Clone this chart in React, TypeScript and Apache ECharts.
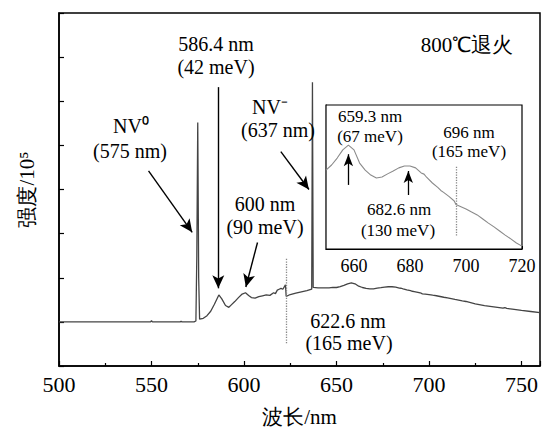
import React, { useEffect, useRef } from "react";
import * as echarts from "echarts";

// ---- data ----
const wavelengths = [
  500, 520, 540, 549.5, 550, 550.5, 560, 565.5, 566, 566.5, 573, 574, 574.5, 575, 575.5, 576,
  578, 580, 582, 584, 586.4, 588, 590, 591.8, 593, 595, 597, 599, 600.8, 602.5, 604, 606,
  608, 610, 612, 614, 616, 617, 618, 619, 620, 621, 622.4, 622.8, 625, 628, 631, 634,
  636.6, 637, 637.4, 640, 643, 646, 648, 650, 652, 654, 656, 658, 660, 662, 664, 666,
  668, 670, 672, 674, 676, 678, 680, 682, 684, 685, 686, 688, 690, 691, 692, 694,
  695.8, 696.4, 698, 700, 702, 704, 706, 708, 710, 712, 714, 716, 718, 720, 725, 730,
  735, 740, 741, 742, 745, 750, 755, 760,
];
const intensity = [
  1.0, 1.0, 1.0, 1.0, 1.025, 1.0, 1.0, 1.0, 1.015, 1.0, 1.0, 1.02, 2.5, 5.52, 2.0, 1.06,
  1.08, 1.14, 1.24, 1.4, 1.61, 1.52, 1.37, 1.33, 1.38, 1.46, 1.55, 1.63, 1.66, 1.6, 1.55, 1.54,
  1.57, 1.59, 1.61, 1.6, 1.66, 1.64, 1.72, 1.74, 1.76, 1.74, 1.84, 1.58, 1.62, 1.65, 1.68, 1.71,
  1.74, 6.43, 1.78, 1.77, 1.77, 1.77, 1.78, 1.779, 1.8, 1.829, 1.863, 1.883, 1.863, 1.808, 1.779, 1.758,
  1.746, 1.75, 1.763, 1.775, 1.788, 1.796, 1.796, 1.788, 1.767, 1.762, 1.748, 1.725, 1.706, 1.694, 1.686, 1.668,
  1.65, 1.635, 1.627, 1.617, 1.604, 1.592, 1.575, 1.558, 1.542, 1.525, 1.508, 1.492, 1.475, 1.462, 1.41, 1.37,
  1.34, 1.31, 1.325, 1.305, 1.29, 1.26, 1.235, 1.21,
];
const mainXTickLabels = [500, 550, 600, 650, 700, 750];
const insetXTickLabels = [660, 680, 700, 720];

const SERIF = "Liberation Serif";

function txt(text: string, x: number, y: number, size: number) {
  return {
    type: "text",
    x,
    y,
    z: 100,
    style: {
      text,
      fill: "#000",
      fontSize: size,
      fontFamily: SERIF,
      align: "center",
      verticalAlign: "middle",
    },
  };
}

export default function App() {
  const ref = useRef<HTMLDivElement>(null);
  useEffect(() => {
    if (!ref.current) return;
    const chart = echarts.init(ref.current, undefined, { renderer: "svg" });
    const pts = wavelengths.map((w, i) => [w, intensity[i]]);
    const insetPts = pts.filter((p) => p[0] >= 650 && p[0] <= 720);
    const arrow = (a: number[], b: number[]) => [{ coord: a }, { coord: b }];
    const dotted = (a: number[], b: number[]) => [
      { coord: a, symbol: "none", lineStyle: { type: "dotted", color: "#888", width: 1.3 } },
      { coord: b, symbol: "none" },
    ];
    const option: any = {
      animation: false,
      backgroundColor: "#fff",
      grid: [
        { left: 59, top: 13, width: 483, height: 357, show: true, borderColor: "#000", borderWidth: 1.5, backgroundColor: "transparent" },
        { left: 326, top: 105, width: 196, height: 144, show: true, borderColor: "#000", borderWidth: 1.2, backgroundColor: "#fff", z: 3 },
      ],
      xAxis: [
        {
          gridIndex: 0, type: "value", min: 500, max: 760, interval: 50,
          axisLine: { show: true, lineStyle: { color: "#000", width: 1.5 } },
          axisTick: { show: true, inside: true, length: 5, lineStyle: { color: "#000", width: 1.2 } },
          minorTick: { show: true, splitNumber: 2, length: 3, lineStyle: { color: "#000", width: 1.2 } },
          splitLine: { show: false },
          axisLabel: {
            formatter: (v: number) => (mainXTickLabels.includes(v) ? String(v) : ""),
            fontSize: 22, fontFamily: SERIF, color: "#000", margin: 7,
          },
          name: "波长/nm", nameLocation: "middle", nameGap: 40,
          nameTextStyle: { fontSize: 21, fontFamily: SERIF, color: "#000" },
        },
        {
          gridIndex: 1, type: "value", min: 650, max: 720, interval: 10,
          axisLine: { show: true, lineStyle: { color: "#000", width: 1.2 } },
          axisTick: { show: true, inside: true, length: 3, lineStyle: { color: "#000", width: 1 } },
          splitLine: { show: false },
          axisLabel: {
            formatter: (v: number) => (insetXTickLabels.includes(v) ? String(v) : ""),
            fontSize: 18, fontFamily: SERIF, color: "#000", margin: 8,
          },
        },
      ],
      yAxis: [
        {
          gridIndex: 0, type: "value", min: 0, max: 8, interval: 1,
          axisLine: { show: true, lineStyle: { color: "#000", width: 1.5 } },
          axisTick: { show: true, inside: true, length: 5, lineStyle: { color: "#000", width: 1.2 } },
          axisLabel: { show: false },
          splitLine: { show: false },
          name: "强度/10⁵", nameLocation: "middle", nameRotate: 90, nameGap: 22,
          nameTextStyle: { fontSize: 21, fontFamily: SERIF, color: "#000" },
        },
        {
          gridIndex: 1, type: "value", min: 1.45, max: 2.05, interval: 0.05,
          axisLine: { show: true, lineStyle: { color: "#000", width: 1.2 } },
          axisTick: { show: true, inside: true, length: 3, lineStyle: { color: "#000", width: 1 } },
          axisLabel: { show: false },
          splitLine: { show: false },
        },
      ],
      series: [
        {
          type: "line", xAxisIndex: 0, yAxisIndex: 0, data: pts, showSymbol: false, symbol: "none",
          lineStyle: { color: "#444", width: 1.3 }, z: 2,
          markLine: {
            silent: true, animation: false, symbol: ["none", "arrow"], symbolSize: [9, 13],
            label: { show: false },
            lineStyle: { color: "#000", width: 1.4, type: "solid" },
            data: [
              arrow([548.4, 4.42], [572.0, 3.03]),
              arrow([586.1, 6.32], [586.1, 1.76]),
              arrow([607.3, 2.8], [601.0, 1.79]),
              arrow([619.9, 4.86], [635.1, 4.0]),
              dotted([622.7, 2.43], [622.7, 0.49]),
            ],
          },
        },
        {
          type: "line", xAxisIndex: 1, yAxisIndex: 1, data: insetPts, showSymbol: false, symbol: "none",
          lineStyle: { color: "#8a8a8a", width: 1.1 }, z: 5,
          markLine: {
            silent: true, animation: false, symbol: ["none", "arrow"], symbolSize: [7, 12],
            label: { show: false },
            lineStyle: { color: "#000", width: 1.3, type: "solid" },
            data: [
              arrow([658.0, 1.717], [658.0, 1.845]),
              arrow([679.4, 1.675], [679.4, 1.775]),
              dotted([696.5, 1.793], [696.5, 1.501]),
            ],
          },
        },
      ],
      graphic: [
        txt("586.4 nm", 216, 44, 20),
        txt("(42 meV)", 216, 67, 20),
        txt("NV⁰", 131, 126, 20),
        txt("(575 nm)", 130, 151, 20),
        txt("NV⁻", 270, 107, 20),
        txt("(637 nm)", 278, 130, 20),
        txt("600 nm", 265, 204, 20),
        txt("(90 meV)", 265, 227, 20),
        txt("622.6 nm", 348, 321, 20),
        txt("(165 meV)", 349, 343, 20),
        txt("800℃退火", 467, 45, 21),
        txt("659.3 nm", 370, 116, 17),
        txt("(67 meV)", 370, 136, 17),
        txt("696 nm", 469, 132, 17),
        txt("(165 meV)", 469, 151, 17),
        txt("682.6 nm", 399, 209, 17),
        txt("(130 meV)", 398, 230, 17),
      ],
    };
    chart.setOption(option);
    return () => chart.dispose();
  }, []);
  return <div ref={ref} style={{ position: "absolute", left: 0, top: 0, width: 543, height: 432 }} />;
}
